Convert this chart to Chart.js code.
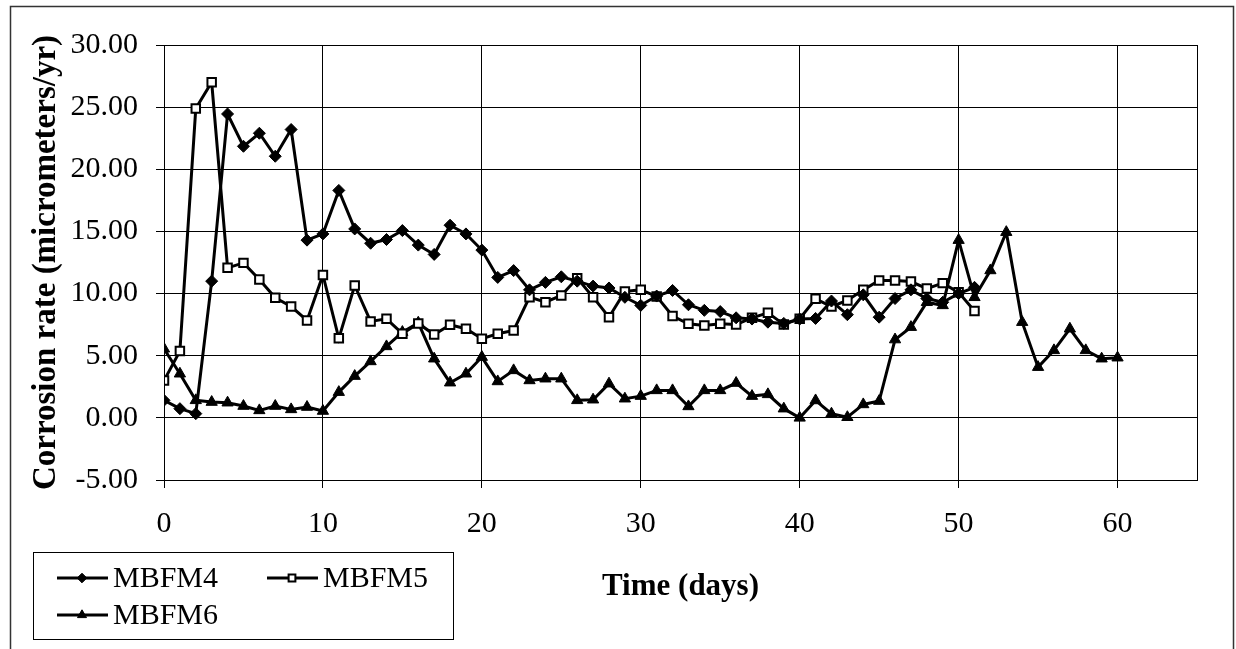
<!DOCTYPE html>
<html>
<head>
<meta charset="utf-8">
<script src="https://cdn.jsdelivr.net/npm/chart.js@4.4.1/dist/chart.umd.min.js"></script>
<style>
  html, body { margin: 0; padding: 0; background: #ffffff; }
  #wrap { width: 1236px; height: 649px; }
</style>
</head>
<body>
<div id="wrap"><canvas id="c" width="1236" height="649"></canvas></div>
<script>
// ---- data ----
const daysA = [0,1,2,3,4,5,6,7,8,9,10,11,12,13,14,15,16,17,18,19,20,21,22,23,24,25,26,27,28,29,30,31,32,33,34,35,36,37,38,39,40,41,42,43,44,45,46,47,48,49,50,51];
const daysB = [0,1,2,3,4,5,6,7,8,9,10,11,12,13,14,15,16,17,18,19,20,21,22,23,24,25,26,27,28,29,30,31,32,33,34,35,36,37,38,39,40,41,42,43,44,45,46,47,48,49,50,51,52,53,54,55,56,57,58,59,60];
const mbfm4 = [1.41,0.74,0.34,11.0,24.45,21.85,22.9,21.05,23.2,14.3,14.8,18.3,15.2,14.05,14.35,15.07,13.9,13.15,15.5,14.8,13.5,11.3,11.85,10.3,10.9,11.35,11.0,10.6,10.45,9.7,9.05,9.8,10.25,9.1,8.65,8.55,8.05,7.95,7.7,7.6,7.95,8.0,9.4,8.3,9.9,8.1,9.6,10.3,9.6,9.3,10.0,10.5];
const mbfm5 = [3.0,5.37,24.9,27.0,12.07,12.47,11.13,9.66,8.96,7.84,11.5,6.4,10.65,7.76,7.97,6.77,7.6,6.7,7.49,7.17,6.37,6.77,7.03,9.71,9.31,9.85,11.24,9.71,8.1,10.17,10.3,9.77,8.19,7.57,7.43,7.57,7.52,8.05,8.45,7.52,7.97,9.58,8.96,9.45,10.3,11.05,11.05,10.97,10.4,10.84,10.1,8.6];
const mbfm6 = [5.56,3.55,1.41,1.27,1.22,0.95,0.6,0.95,0.68,0.87,0.55,2.07,3.36,4.54,5.75,6.9,7.65,4.76,2.83,3.55,4.89,2.93,3.82,3.01,3.15,3.15,1.41,1.46,2.75,1.54,1.75,2.21,2.21,0.92,2.21,2.21,2.8,1.75,1.89,0.74,0.0,1.4,0.33,0.05,1.08,1.35,6.3,7.3,9.3,9.05,14.3,9.7,11.86,14.94,7.7,4.08,5.43,7.17,5.43,4.76,4.84];
const seriesNames = ['MBFM4','MBFM5','MBFM6'];
const xTitle = 'Time (days)';
const yTitle = 'Corrosion rate (micrometers/yr)';
const xTicks = [0,10,20,30,40,50,60];

const FONT = "'Liberation Serif', 'Times New Roman', serif";

function pts(xs, ys) { return ys.map((v, i) => ({x: xs[i], y: v})); }

const styles = [
  {pointStyle: 'rectRot', radius: 6, bg: '#000000', bw: 1},
  {pointStyle: 'rect', radius: 6, bg: '#ffffff', bw: 2},
  {pointStyle: 'triangle', radius: 6.5, bg: '#000000', bw: 1}
];

const datasets = [
  {label: seriesNames[0], data: pts(daysA, mbfm4)},
  {label: seriesNames[1], data: pts(daysA, mbfm5)},
  {label: seriesNames[2], data: pts(daysB, mbfm6)}
].map((d, i) => Object.assign(d, {
  showLine: true,
  borderColor: '#000000',
  borderWidth: 3,
  pointStyle: styles[i].pointStyle,
  pointRadius: styles[i].radius,
  pointBackgroundColor: styles[i].bg,
  pointBorderColor: '#000000',
  pointBorderWidth: styles[i].bw,
  tension: 0
}));

const decor = {
  id: 'decor',
  beforeDraw(chart) {
    const ctx = chart.ctx;
    ctx.save();
    ctx.fillStyle = '#ffffff';
    ctx.fillRect(0, 0, chart.width, chart.height);
    // outer chart border
    ctx.strokeStyle = '#333333';
    ctx.lineWidth = 1.5;
    ctx.beginPath();
    ctx.moveTo(10.5, 649);
    ctx.lineTo(10.5, 6.5);
    ctx.lineTo(1233.5, 6.5);
    ctx.lineTo(1233.5, 649);
    ctx.stroke();
    ctx.restore();
  },
  afterDraw(chart) {
    const ctx = chart.ctx;
    const a = chart.chartArea;
    ctx.save();
    // plot area border
    ctx.strokeStyle = '#000000';
    ctx.lineWidth = 1;
    ctx.strokeRect(Math.round(a.left) + 0.5, Math.round(a.top) + 0.5, Math.round(a.right - a.left), Math.round(a.bottom - a.top));
    // axis titles
    ctx.fillStyle = '#000000';
    ctx.textAlign = 'center';
    ctx.textBaseline = 'middle';
    ctx.font = 'bold 31px ' + FONT;
    ctx.fillText(xTitle, (a.left + a.right) / 2, 587);
    ctx.save();
    ctx.font = 'bold 33px ' + FONT;
    ctx.translate(46, (a.top + a.bottom) / 2);
    ctx.rotate(-Math.PI / 2);
    ctx.fillText(yTitle, 0, 0);
    ctx.restore();
    // legend
    ctx.lineWidth = 1;
    ctx.strokeStyle = '#000000';
    ctx.strokeRect(33.5, 552.5, 420, 87);
    const items = [
      {i: 0, x0: 57, y: 578},
      {i: 1, x0: 267, y: 578},
      {i: 2, x0: 57, y: 615}
    ];
    ctx.font = '30px ' + FONT;
    ctx.textAlign = 'left';
    items.forEach(it => {
      const st = styles[it.i];
      ctx.strokeStyle = '#000000';
      ctx.lineWidth = 3;
      ctx.beginPath();
      ctx.moveTo(it.x0, it.y);
      ctx.lineTo(it.x0 + 51, it.y);
      ctx.stroke();
      ctx.fillStyle = st.bg;
      ctx.strokeStyle = '#000000';
      ctx.lineWidth = st.bw;
      Chart.helpers.drawPoint(ctx, {pointStyle: st.pointStyle, radius: st.radius * 0.8, rotation: 0, borderWidth: st.bw}, it.x0 + 25, it.y);
      ctx.fillStyle = '#000000';
      ctx.fillText(chart.data.datasets[it.i].label, it.x0 + 56, it.y + 1);
    });
    ctx.restore();
  }
};

new Chart(document.getElementById('c'), {
  type: 'scatter',
  data: {datasets},
  options: {
    responsive: false,
    animation: false,
    events: [],
    layout: {padding: {left: 0, right: 39, top: 45, bottom: 0}},
    plugins: {legend: {display: false}, tooltip: {enabled: false}, title: {display: false}},
    scales: {
      x: {
        type: 'linear',
        min: 0, max: 65,
        afterBuildTicks: s => { s.ticks = xTicks.map(v => ({value: v})); },
        afterFit: s => { s.height = 649 - 480; },
        ticks: {stepSize: 10, autoSkip: false, maxRotation: 0, padding: 18, color: '#000000',
                font: {family: FONT, size: 30}},
        grid: {color: '#000000', lineWidth: 1, tickLength: 8, drawTicks: true},
        border: {color: '#000000', width: 1}
      },
      y: {
        type: 'linear',
        min: -5, max: 30,
        ticks: {stepSize: 5, padding: 18, color: '#000000',
                font: {family: FONT, size: 30},
                callback: v => Number(v).toFixed(2)},
        afterFit: s => { s.width = 164; },
        grid: {color: '#000000', lineWidth: 1, tickLength: 8, drawTicks: true},
        border: {color: '#000000', width: 1}
      }
    }
  },
  plugins: [decor]
});
</script>
</body>
</html>
